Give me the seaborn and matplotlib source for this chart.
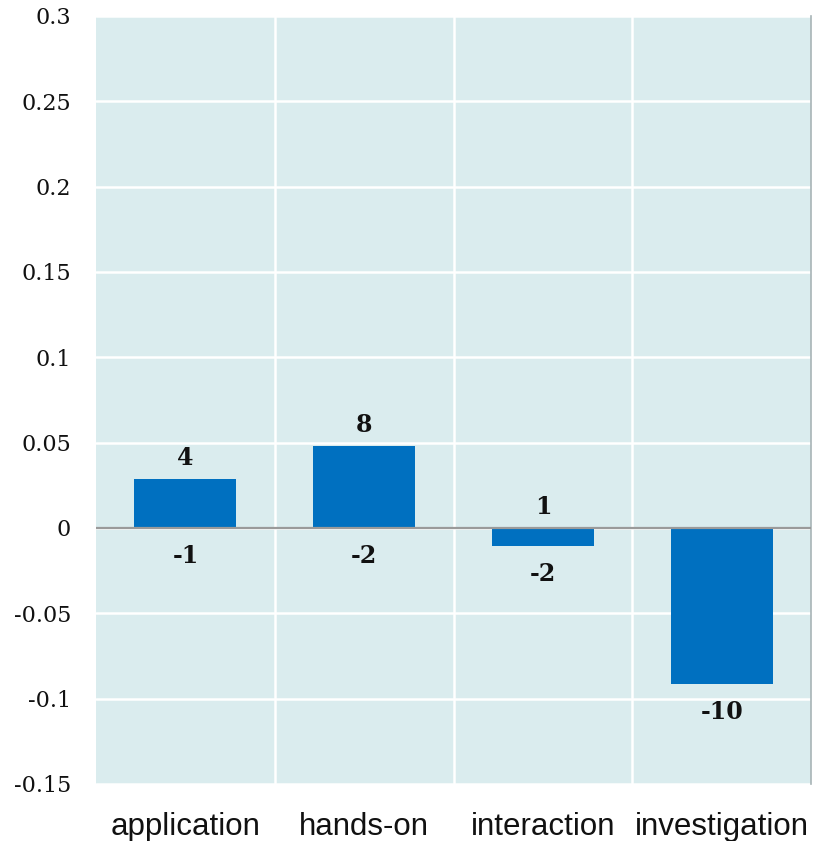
import matplotlib
matplotlib.use("Agg")
import matplotlib.pyplot as plt
import seaborn as sns
import pandas as pd

# Data
categories = ["application", "hands-on", "interaction", "investigation"]
values = [0.029, 0.048, -0.0105, -0.0915]
upper_counts = ["4", "8", "1", ""]
lower_counts = ["-1", "-2", "-2", "-10"]
y_ticks = [0.3, 0.25, 0.2, 0.15, 0.1, 0.05, 0, -0.05, -0.1, -0.15]
y_tick_labels = ["0.3", "0.25", "0.2", "0.15", "0.1", "0.05", "0", "-0.05", "-0.1", "-0.15"]

df = pd.DataFrame({"category": categories, "value": values})

sns.set_theme(style="white")
fig = plt.figure(figsize=(8.15, 8.41), dpi=100)
ax = fig.add_axes([96 / 815, 57 / 841, 715 / 815, 768 / 841])
ax.set_facecolor("#DAECEE")

sns.barplot(data=df, x="category", y="value", color="#0070C0", saturation=1,
            width=0.57, linewidth=0, ax=ax, zorder=3)

ax.set_xlim(-0.5, 3.5)
ax.set_ylim(-0.15, 0.3)

# white grid: horizontal at ticks, vertical at category boundaries
for y in y_ticks:
    ax.axhline(y, color="white", lw=1.8, zorder=1)
for x in [0.5, 1.5, 2.5]:
    ax.axvline(x, color="white", lw=1.8, zorder=1)
ax.axhline(0, color="#9A9A9A", lw=1.6, zorder=4)

for s in ["top", "left", "bottom"]:
    ax.spines[s].set_visible(False)
ax.spines["right"].set_color("#A8B4B6")
ax.spines["right"].set_linewidth(1.2)

ax.set_yticks(y_ticks)
ax.set_yticklabels(y_tick_labels, fontfamily="DejaVu Serif", fontsize=16, color="#111111")
ax.set_xticks(range(len(categories)))
ax.set_xticklabels(categories, fontfamily="Liberation Sans", fontsize=22.5, color="#111111")
ax.tick_params(axis="y", length=0, pad=18)
ax.tick_params(axis="x", length=0, pad=20)
ax.set_xlabel("")
ax.set_ylabel("")

# count labels above and below each bar
for i, v in enumerate(values):
    if upper_counts[i]:
        ax.annotate(upper_counts[i], (i, max(v, 0)), xytext=(0, 21),
                    textcoords="offset pixels", ha="center", va="center",
                    fontfamily="DejaVu Serif", fontweight="bold", fontsize=17, color="#111111")
    if lower_counts[i]:
        ax.annotate(lower_counts[i], (i, min(v, 0)), xytext=(0, -28),
                    textcoords="offset pixels", ha="center", va="center",
                    fontfamily="DejaVu Serif", fontweight="bold", fontsize=17, color="#111111")

fig.savefig("out.png", dpi=100)
